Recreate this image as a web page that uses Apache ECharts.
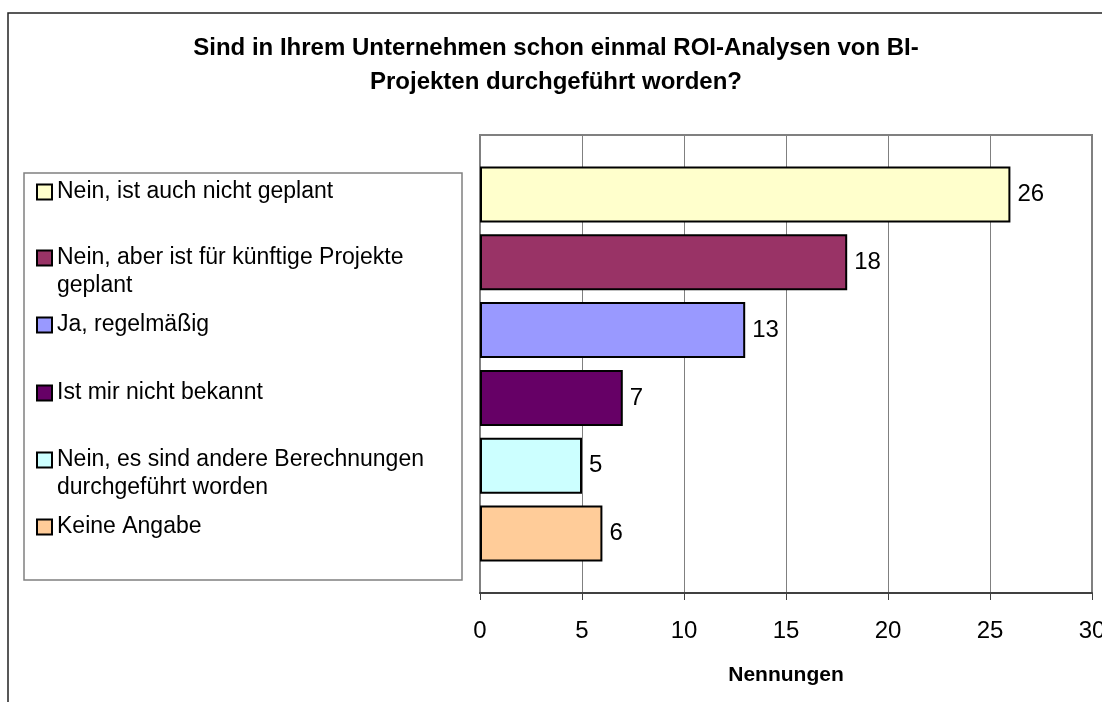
<!DOCTYPE html>
<html>
<head>
<meta charset="utf-8">
<script src="https://cdn.jsdelivr.net/npm/echarts@6/dist/echarts.min.js"></script>
<style>
    html, body { margin: 0; padding: 0; background: #fff; }
    #chart { width: 1102px; height: 702px; }
</style>
</head>
<body>
<div id="chart"></div>
<script>
    // Antworten (Reihen) und Anzahl Nennungen
    var answers = [
        'Nein, ist auch nicht geplant',
        'Nein, aber ist für künftige Projekte\ngeplant',
        'Ja, regelmäßig',
        'Ist mir nicht bekannt',
        'Nein, es sind andere Berechnungen\ndurchgeführt worden',
        'Keine Angabe'
    ];
    var counts = [26, 18, 13, 7, 5, 6];
    var axisMin = 0, axisMax = 30, axisStep = 5;

    var colors = ['#FFFFCC', '#993366', '#9999FF', '#660066', '#CCFFFF', '#FFCC99'];
    var legendCenters = [192, 258, 325, 393, 460, 527];
    var font = "'Liberation Sans', Arial, sans-serif";

    var chart = echarts.init(document.getElementById('chart'));

    var series = answers.map(function (name, i) {
        return {
            name: name,
            type: 'bar',
            data: [counts[i]],
            barWidth: 56,
            barGap: '21%',
            itemStyle: { color: colors[i], borderColor: '#000', borderWidth: 2 },
            label: {
                show: true,
                position: 'right',
                distance: 7,
                color: '#000',
                fontSize: 24,
                fontFamily: font
            },
            emphasis: { disabled: true }
        };
    });

    //je Eintrag eine Legende, damit die Abstände wie im Original sind
    //zweizeilige Einträge: leere erste Zeile, damit die erste Textzeile neben dem Kästchen steht
    var legends = answers.map(function (name, i) {
        var twoLines = name.indexOf('\n') >= 0;
        return {
            orient: 'vertical',
            left: 36,
            top: legendCenters[i] - (twoLines ? 42 : 14),
            padding: 0,
            itemWidth: 15,
            itemHeight: 15,
            itemGap: 0,
            icon: 'rect',
            selectedMode: false,
            data: [name],
            formatter: function (n) {
                return twoLines ? ' \n' + n : n;
            },
            textStyle: {
                color: '#000',
                fontSize: 23,
                lineHeight: 28,
                fontFamily: font
            }
        };
    });

    chart.setOption({
        animation: false,
        backgroundColor: '#fff',
        title: {
            text: 'Sind in Ihrem Unternehmen schon einmal ROI-Analysen von BI-\nProjekten durchgeführt worden?',
            left: 556,
            top: 31,
            padding: 0,
            textAlign: 'center',
            textStyle: {
                color: '#000',
                fontSize: 24,
                fontWeight: 'bold',
                lineHeight: 34,
                fontFamily: font
            }
        },
        legend: legends,
        grid: {
            left: 480,
            top: 135,
            right: 10,
            bottom: 109,
            show: true,
            borderColor: '#808080',
            borderWidth: 2,
            containLabel: false,
            outerBoundsMode: 'none'
        },
        xAxis: {
            type: 'value',
            min: axisMin,
            max: axisMax,
            interval: axisStep,
            name: 'Nennungen',
            nameLocation: 'middle',
            nameGap: 72,
            nameMoveOverlap: false,
            nameTextStyle: { color: '#000', fontSize: 21, fontWeight: 'bold', fontFamily: font },
            axisLine: { show: true, lineStyle: { color: '#404040', width: 2 } },
            axisTick: { show: true, length: 7, lineStyle: { color: '#404040', width: 1 } },
            axisLabel: { color: '#000', fontSize: 24, margin: 26, fontFamily: font },
            splitLine: { show: true, lineStyle: { color: '#808080', width: 1 } }
        },
        yAxis: {
            type: 'category',
            data: [''],
            inverse: true,
            axisLine: { show: true, lineStyle: { color: '#808080', width: 1 } },
            axisTick: { show: false },
            axisLabel: { show: false }
        },
        graphic: [
            {
                type: 'rect',
                shape: { x: 8, y: 13, width: 1200, height: 800 },
                style: { fill: null, stroke: '#222', lineWidth: 1.5 },
                silent: true
            },
            {
                type: 'rect',
                shape: { x: 24, y: 173, width: 438, height: 407 },
                style: { fill: null, stroke: '#808080', lineWidth: 1.5 },
                silent: true
            }
        ],
        series: series
    });

    window.addEventListener('resize', function () {
        chart.resize();
    });
</script>
</body>
</html>
